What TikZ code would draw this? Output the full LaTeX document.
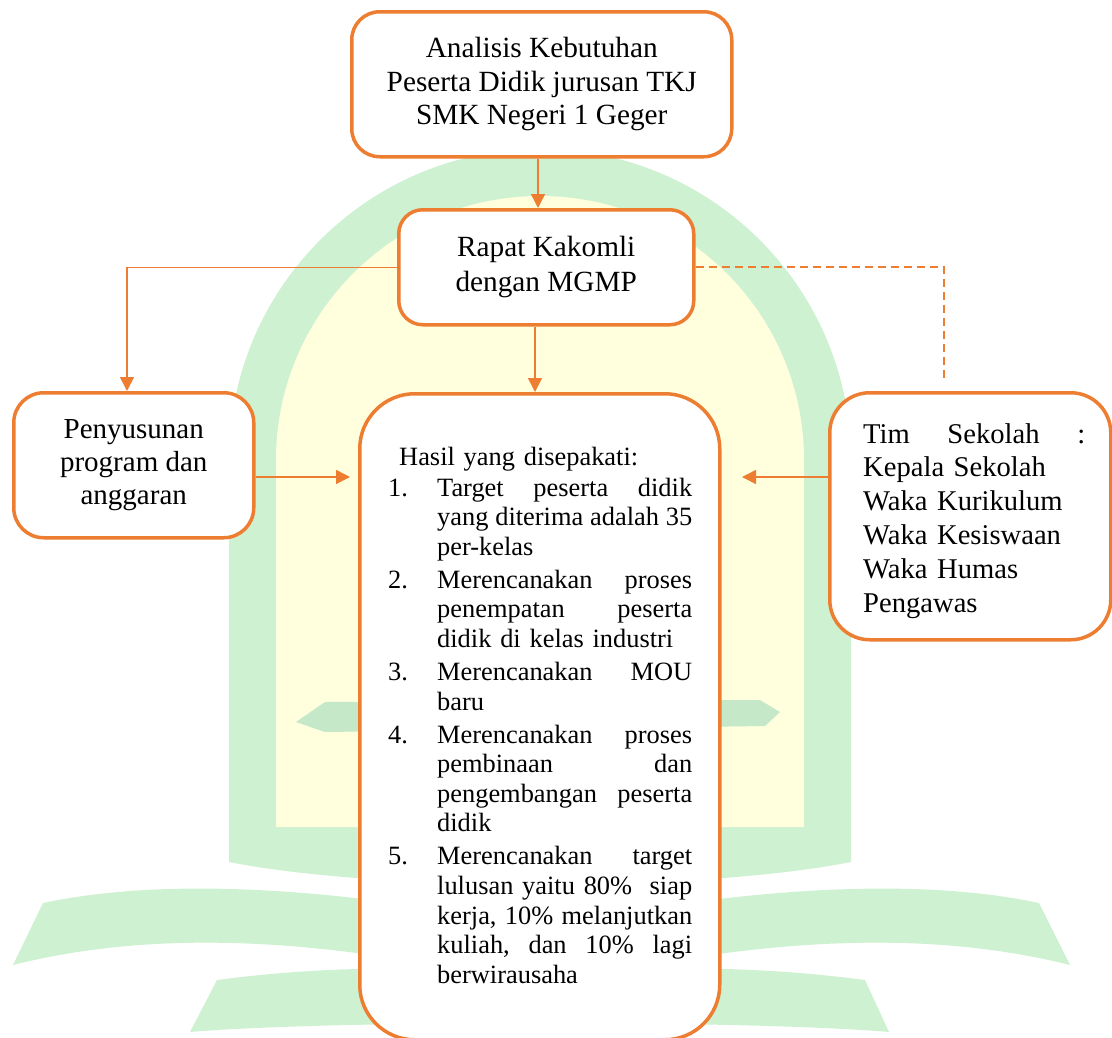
\documentclass[tikz,border=0pt]{standalone}
\usepackage{fontspec}
\setmainfont{Liberation Serif}
\usetikzlibrary{arrows.meta}
\definecolor{org}{RGB}{237,125,49}
\definecolor{wmg}{RGB}{206,241,209}
\definecolor{wmgd}{RGB}{196,232,200}
\definecolor{wmy}{RGB}{255,255,222}
\newlength\itw \setlength\itw{255pt}
\newcommand\js[1]{\makebox[\itw]{#1}}
\newcommand\jl[1]{\makebox[\itw][l]{#1}}
\newcommand\fli[2]{\par\vspace{3.4pt}\noindent\makebox[49pt][l]{#1}#2}
\newcommand\nli[1]{\par\noindent\hspace*{49pt}#1}
\begin{document}
\begin{tikzpicture}[x=1pt,y=1pt,
  box/.style={draw=org, line width=3.5pt, fill=white, inner sep=0pt, anchor=north west, align=center},
  conn/.style={draw=org, line width=1.5pt, -{Triangle[length=14pt,width=14pt]}},
  dconn/.style={draw=org, line width=1.8pt, dash pattern=on 8pt off 5pt},
  txt/.style={anchor=base west, inner sep=0pt}]
\useasboundingbox (0,0) rectangle (1112,-1037);
% ---- watermark ----
\fill[wmg] (229,-862) -- (229,-460) arc[start angle=180,end angle=0,radius=311] -- (851,-862)
  .. controls (700,-892) and (380,-892) .. (229,-862) -- cycle;
\fill[wmy] (276,-827) -- (276,-460) arc[start angle=180,end angle=0,radius=264] -- (804,-827) -- cycle;
\fill[wmgd] (296,-722) -- (325,-702) -- (760,-700) -- (780,-712) -- (765,-726) -- (325,-732) -- cycle;
\fill[wmg] (13,-965) -- (43,-903) .. controls (160,-878) and (330,-885) .. (541,-928)
  .. controls (752,-885) and (922,-878) .. (1039,-903) -- (1070,-965)
  .. controls (930,-930) and (760,-935) .. (541,-988)
  .. controls (322,-935) and (152,-930) .. (13,-965) -- cycle;
\fill[wmg] (190,-1032) -- (217,-980) .. controls (330,-965) and (450,-965) .. (541,-978)
  .. controls (632,-965) and (752,-965) .. (865,-980) -- (889,-1032)
  .. controls (750,-1020) and (330,-1020) .. (190,-1032) -- cycle;
% ---- boxes ----
\node[box, rounded corners=28pt, minimum width=380pt, minimum height=145pt,
  font=\fontsize{29.3}{33.5}\selectfont] (topbox) at (350,-10)
  {Analisis Kebutuhan\\Peserta Didik jurusan TKJ\\SMK Negeri 1 Geger};
\node[box, rounded corners=24pt, minimum width=295pt, minimum height=115pt,
  font=\fontsize{29.3}{35}\selectfont] (rapat) at (397,-208)
  {Rapat Kakomli\\dengan MGMP};
\node[box, rounded corners=30pt, minimum width=240pt, minimum height=145pt,
  font=\fontsize{29}{33}\selectfont] (pen) at (12,-391)
  {Penyusunan\\program dan\\anggaran};
\node[box, rounded corners=55pt, minimum width=360pt, minimum height=646pt] (hasil) at (358,-392) {};
\node[box, rounded corners=40pt, minimum width=281pt, minimum height=247pt] (tim) at (828,-391) {};
% ---- texts ----
\node[txt, text width=304pt, font=\fontsize{26.4}{29.6}\selectfont] (hasiltxt) at (388,-465) {%
\hspace*{11pt}Hasil yang disepakati:\par\vspace{1.4pt}\noindent\makebox[49pt][l]{1.}\js{Target\hfill peserta\hfill didik}%
\nli{\js{yang\hfill diterima\hfill adalah\hfill 35}}%
\nli{\jl{per-kelas}}%
\fli{2.}{\js{Merencanakan\hfill proses}}%
\nli{\js{penempatan\hfill peserta}}%
\nli{\jl{didik di kelas industri}}%
\fli{3.}{\js{Merencanakan\hfill MOU}}%
\nli{\jl{baru}}%
\fli{4.}{\js{Merencanakan\hfill proses}}%
\nli{\js{pembinaan\hfill dan}}%
\nli{\js{pengembangan\hfill peserta}}%
\nli{\jl{didik}}%
\fli{5.}{\js{Merencanakan\hfill target}}%
\nli{\js{lulusan\hfill yaitu\hfill 80\%\hfill\hfill siap}}%
\nli{\js{kerja,\hfill 10\%\hfill melanjutkan}}%
\nli{\js{kuliah,\hfill dan\hfill 10\%\hfill lagi}}%
\nli{\jl{berwirausaha}}};
\node[txt, text width=222pt, font=\fontsize{28.6}{33.8}\selectfont] (timtxt) at (863,-443) {%
\makebox[222pt]{Tim\hfill Sekolah\hfill :}\par
Kepala Sekolah\par Waka Kurikulum\par Waka Kesiswaan\par Waka Humas\par Pengawas};
% ---- connectors ----
\coordinate (lx) at (127,0);
\coordinate (cx) at (535,0);
\coordinate (tx) at (538,0);
\coordinate (tipL) at (350,-477);
\coordinate (tipR) at (742,-477);
\coordinate (dEnd) at (944,-378);
\draw[conn] (topbox.south -| tx) -- (rapat.north -| tx);
\draw[conn] (rapat.west) -| (lx |- pen.north);
\draw[conn] (rapat.south -| cx) -- (hasil.north -| cx);
\draw[conn] (pen.east |- tipL) -- (tipL);
\draw[conn] (tim.west |- tipR) -- (tipR);
\draw[dconn] (rapat.east) -| (dEnd);
\end{tikzpicture}
\end{document}
